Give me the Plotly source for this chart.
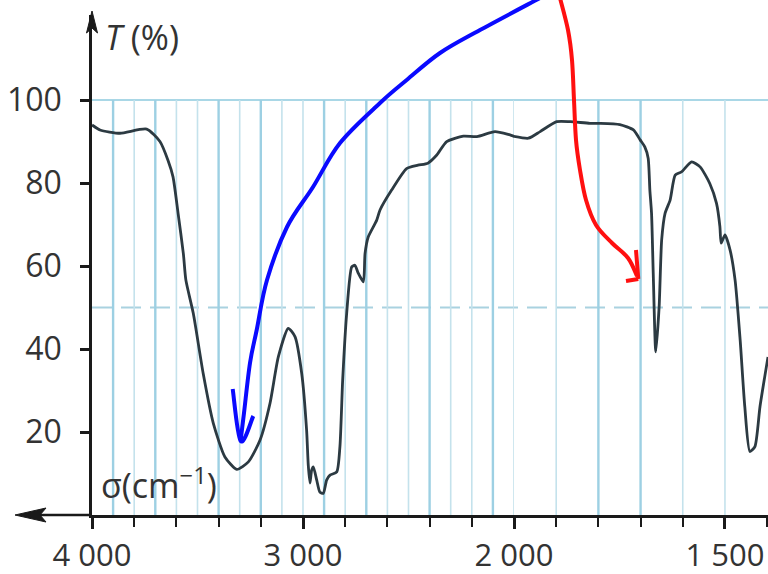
import plotly.graph_objects as go

# ---------------- data ----------------
wavenumber = [4000, 3962, 3867, 3741, 3678, 3640, 3616, 3592, 3567, 3555, 3520, 3473,
              3425, 3370, 3314, 3259, 3204, 3156, 3117, 3070, 3038, 3006, 2983, 2975,
              2967, 2959, 2951, 2935, 2920, 2904, 2888, 2872, 2840, 2825, 2812, 2793,
              2769, 2754, 2740, 2714, 2706, 2691, 2651, 2635, 2580, 2509, 2455, 2408,
              2367, 2319, 2240, 2176, 2090, 2019, 1966, 1938, 1899, 1867, 1820, 1796,
              1749, 1717, 1701, 1690, 1682, 1678, 1674, 1670, 1664, 1656, 1650, 1642,
              1630, 1618, 1603, 1579, 1559, 1536, 1520, 1512, 1509, 1500, 1488, 1476,
              1464, 1453, 1441, 1429, 1417, 1398]
transmittance = [94, 92.8, 92, 93, 90, 85.5, 81.5, 72.7, 63, 56.6, 48.6, 34.1,
                 22.1, 14, 11, 12.8, 18, 27, 38.1, 45, 43, 34.1, 20.5, 12,
                 7.7, 10.8, 11.6, 8.4, 5.5, 5.2, 8.4, 9.6, 10.4, 16.5, 32.5, 48.6,
                 59.8, 60.2, 58.5, 56.2, 63, 67, 71, 73.5, 78.3, 83.5, 84.3, 84.8,
                 86.7, 90, 91.3, 91.2, 92.4, 91.6, 90.8, 92.4, 94.8, 94.8, 94.4, 94.4,
                 94.1, 92.8, 90.4, 88.7, 86, 78.3, 72.7, 58.2, 39.3, 50.2, 66.3, 72.7,
                 75.9, 81.9, 82.7, 85.1, 83.9, 79.9, 75.1, 69.5, 65.5, 67.5, 63.9, 56.6,
                 42.2, 26.1, 15.3, 16.5, 26.1, 38.1]

y_ticks = [20, 40, 60, 80, 100]
x_labeled_left = [4000, 3000]
x_labeled_left_text = ["4 000", "3 000"]
x_minor_left = [3800, 3600, 3400, 3200, 2800, 2600, 2400, 2200]
x_labeled_right = [2000, 1500]
x_labeled_right_text = ["2 000", "1 500"]
x_minor_right = [1900, 1800, 1700, 1600, 1400]
grid_left = list(range(3900, 1999, -100))
grid_right = [1900, 1800, 1700, 1600, 1500]
strong_grid = [3900, 3700, 3400, 3200, 2900, 2700, 2400, 2100, 1800, 1700]

# ---------------- geometry ----------------
W, H = 768, 574
ML, MR, MT, MB = 92, 0, 15, 59
PW, PH = W - ML - MR, H - MT - MB
split = 422 / PW

def px(x):
    return (x - ML) / PW

def py(y):
    return (H - MB - y) / PH

AX = "#1a1a1a"
TXT = "#333333"
CURVE = "#2c3a42"
GRID_L = "#c4e2ec"
GRID_S = "#9dd0e3"

fig = go.Figure()
for xa in ["x", "x2"]:
    fig.add_trace(go.Scatter(x=wavenumber, y=transmittance, mode="lines",
                             line=dict(color=CURVE, width=2.8, shape="spline", smoothing=0.6),
                             xaxis=xa, yaxis="y", showlegend=False, hoverinfo="skip"))

shapes = []
for g in grid_left:
    s = g in strong_grid
    shapes.append(dict(type="line", xref="x", yref="y", x0=g, x1=g, y0=0, y1=100,
                       line=dict(color=GRID_S if s else GRID_L, width=2.4 if s else 1.6), layer="below"))
for g in grid_right:
    s = g in strong_grid
    shapes.append(dict(type="line", xref="x2", yref="y", x0=g, x1=g, y0=0, y1=100,
                       line=dict(color=GRID_S if s else GRID_L, width=2.4 if s else 1.6), layer="below"))
shapes.append(dict(type="line", xref="paper", yref="y", x0=0, x1=1, y0=100, y1=100,
                   line=dict(color="#a9d7e6", width=2), layer="below"))
shapes.append(dict(type="line", xref="paper", yref="y", x0=0, x1=1, y0=50, y1=50,
                   line=dict(color="#a9d2e0", width=2, dash="20px,9px"), layer="below"))

# axis arrow extensions
shapes.append(dict(type="line", xref="paper", yref="paper", x0=px(30), x1=0, y0=0, y1=0,
                   line=dict(color=AX, width=2.5)))
shapes.append(dict(type="path", xref="paper", yref="paper",
                   path=f"M {px(15)} {py(515)} L {px(46)} {py(508)} L {px(40)} {py(515)} L {px(46)} {py(522)} Z",
                   fillcolor=AX, line=dict(color=AX, width=1)))
shapes.append(dict(type="path", xref="paper", yref="paper",
                   path=f"M {px(92)} {py(11)} L {px(86.5)} {py(33)} L {px(92)} {py(28)} L {px(97.5)} {py(33)} Z",
                   fillcolor=AX, line=dict(color=AX, width=1)))


def smooth_path(pts):
    p = [(px(x), py(y)) for x, y in pts]
    d = f"M {p[0][0]} {p[0][1]}"
    for i in range(len(p) - 1):
        p0 = p[i - 1] if i > 0 else p[i]
        p1, p2 = p[i], p[i + 1]
        p3 = p[i + 2] if i + 2 < len(p) else p2
        c1 = (p1[0] + (p2[0] - p0[0]) / 6, p1[1] + (p2[1] - p0[1]) / 6)
        c2 = (p2[0] - (p3[0] - p1[0]) / 6, p2[1] - (p3[1] - p1[1]) / 6)
        d += f" C {c1[0]} {c1[1]} {c2[0]} {c2[1]} {p2[0]} {p2[1]}"
    return d

blue = [(540, -2), (480, 30), (440, 53), (406.7, 80), (380, 103), (340, 143), (313, 187),
        (287, 227), (267, 280), (256.7, 330), (250, 363), (244, 413), (240.7, 440)]
blue_head = [(232.7, 389), (240.7, 441), (253.3, 416)]
red = [(560, -2), (568, 30), (572, 60), (574, 100), (576, 140), (580, 170), (586, 200),
       (596, 225), (612, 243), (628, 258), (637, 276)]
red_head_a = [(636, 250), (638.3, 279)]
red_head_b = [(626, 281), (638.3, 279)]

for pts, col in [(blue, "#0a0aff"), (blue_head, "#0a0aff"), (red, "#ff1010"),
                 (red_head_a, "#ff1010"), (red_head_b, "#ff1010")]:
    shapes.append(dict(type="path", xref="paper", yref="paper", path=smooth_path(pts),
                       line=dict(color=col, width=4)))

minor_style = dict(ticks="outside", ticklen=9, tickwidth=2, tickcolor=AX)

fig.update_layout(
    width=W, height=H,
    margin=dict(l=ML, r=MR, t=MT, b=MB, autoexpand=False),
    paper_bgcolor="white", plot_bgcolor="white",
    showlegend=False,
    font=dict(family="Open Sans", color=TXT),
    xaxis=dict(domain=[0, split], range=[4000, 2000], showgrid=False, zeroline=False,
               showline=True, linecolor=AX, linewidth=2.5, automargin=False,
               ticks="outside", ticklen=11, tickwidth=2.5, tickcolor=AX,
               tickvals=x_labeled_left, ticktext=x_labeled_left_text,
               minor=dict(tickvals=x_minor_left, **minor_style),
               tickfont=dict(size=31, color=TXT), fixedrange=True),
    xaxis2=dict(domain=[split, 1], range=[2000, 1398], showgrid=False, zeroline=False,
                showline=True, linecolor=AX, linewidth=2.5, anchor="y", automargin=False,
                ticks="outside", ticklen=11, tickwidth=2.5, tickcolor=AX,
                tickvals=x_labeled_right, ticktext=x_labeled_right_text,
                minor=dict(tickvals=x_minor_right, **minor_style),
                tickfont=dict(size=31, color=TXT), fixedrange=True),
    yaxis=dict(range=[0, 120.5], showgrid=False, zeroline=False, automargin=False,
               showline=True, linecolor=AX, linewidth=2.5,
               ticks="outside", ticklen=9, tickwidth=2.5, tickcolor=AX,
               ticklabelstandoff=12,
               tickvals=y_ticks, tickfont=dict(size=32, color=TXT), fixedrange=True),
    shapes=shapes,
    annotations=[
        dict(text="<i>T</i> (%)", xref="paper", yref="paper", x=px(103), y=py(37),
             xanchor="left", yanchor="middle", showarrow=False, font=dict(size=34, color=TXT)),
        dict(text="σ(cm<sup>−1</sup>)", xref="paper", yref="paper", x=px(99), y=py(510),
             xanchor="left", yanchor="bottom", showarrow=False, font=dict(size=34, color=TXT)),
    ],
)

fig.write_html("out.html", config={"displayModeBar": False},
               post_script="document.body.style.margin='0px';document.body.style.overflow='hidden';")
